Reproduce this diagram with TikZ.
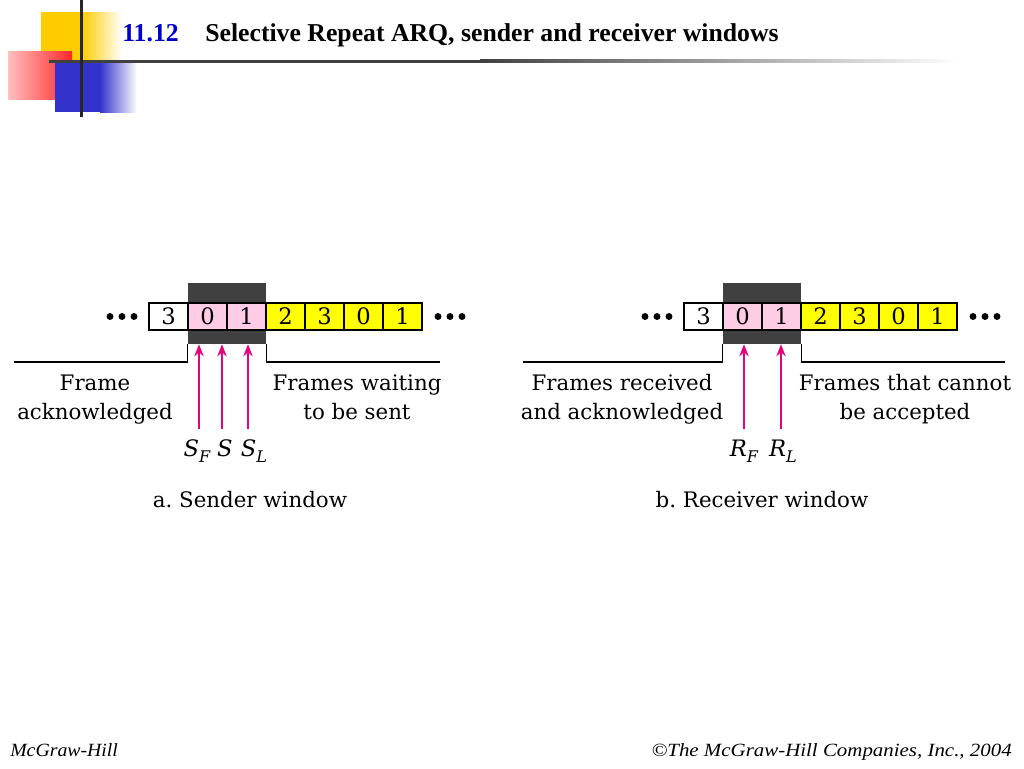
\documentclass[tikz,border=0pt]{standalone}
\usepackage{fontspec}
\usetikzlibrary{arrows.meta,calc}
\newfontfamily\timesfont{Liberation Serif}
\newfontfamily\bodyfont{DejaVu Serif}
\frenchspacing
\newcommand{\sublbl}[2]{{\itshape #1\raisebox{-0.28em}{\fontsize{12}{13}\selectfont #2}}}
\definecolor{cellyellow}{RGB}{255,255,0}
\definecolor{cellpink}{RGB}{255,204,230}
\definecolor{winshade}{RGB}{64,64,64}
\definecolor{arrowmag}{RGB}{230,0,126}
\definecolor{titleblue}{RGB}{0,0,204}
\definecolor{logoyellow}{RGB}{255,204,0}
\definecolor{logored}{RGB}{255,40,40}
\definecolor{logoblue}{RGB}{51,51,204}
\begin{document}
\begin{tikzpicture}[x=0.75pt,y=-0.75pt,
  cell/.style={draw=black,line width=0.9pt,minimum width=29.25pt,minimum height=20.25pt,inner sep=0pt,font=\bodyfont\fontsize{17}{19}\selectfont},
  winbox/.style={fill=winshade,minimum width=58.5pt,minimum height=45.75pt,inner sep=0pt},
  lbl/.style={anchor=base,inner sep=0pt,font=\bodyfont\fontsize{16}{19}\selectfont},
  mlbl/.style={anchor=base,inner sep=0pt,font=\bodyfont\fontsize{17}{19}\selectfont},
  bracket/.style={draw=black,line width=1.1pt},
  marrow/.style={draw=arrowmag,line width=1.4pt,-{Stealth[length=9pt,width=7pt]}},
  dot/.style={fill=black}]
\useasboundingbox (0,0) rectangle (1024,768);
\fill[white] (0,0) rectangle (1024,768);

% ---- logo ----
\fill[logoyellow] (41,12) rectangle (82,60);
\shade[left color=logoyellow,right color=white] (82,12) rectangle (122,60);
\shade[left color=logored!30,right color=logored] (8,51) rectangle (72,99);
\fill[logoblue] (55,62) rectangle (100,112);
\shade[left color=logoblue,right color=white] (100,62) rectangle (137,112);
\fill[black!75] (49,59.5) rectangle (480,62.5);
\shade[left color=black!75,right color=white] (480,59.5) rectangle (960,62.5);
\fill[black!85] (79.5,0) rectangle (82.5,117);

% ---- title ----
\node[anchor=base west,inner sep=0pt,font=\timesfont\bfseries\fontsize{19.3}{23}\selectfont,text=titleblue] (tnum) at (122,41) {11.12};
\node[anchor=base west,inner sep=0pt,font=\timesfont\bfseries\fontsize{19.3}{23}\selectfont] (ttext) at (205,41) {Selective Repeat ARQ, sender and receiver windows};

% ---- sender window ----
\node[winbox] (swin) at (227,313.5) {};
\foreach \i/\n/\c in {0/3/white,1/0/cellpink,2/1/cellpink,3/2/cellyellow,4/3/cellyellow,5/0/cellyellow,6/1/cellyellow}
  \node[cell,fill=\c] (s\i) at ({168.5+39*\i},316.5) {\n};
\foreach \x in {110,122,134} \fill[dot] (\x,316.5) circle[radius=2.6pt];
\foreach \x in {438,450,462} \fill[dot] (\x,316.5) circle[radius=2.6pt];
\draw[bracket] (14,362) -- (swin.south west |- 0,362) -- (swin.south west);
\draw[bracket] (swin.south east) -- (swin.south east |- 0,362) -- (440,362);
\node[lbl] (sfa) at (95,390) {Frame};
\node[lbl] (sfb) at (95,419) {acknowledged};
\node[lbl] (swa) at (357,390) {Frames waiting};
\node[lbl] (swb) at (357,419) {to be sent};
\coordinate (sfT) at (199,429);
\coordinate (ssT) at (222,429);
\coordinate (slT) at (248,429);
\draw[marrow] (sfT) -- (sfT |- swin.south);
\draw[marrow] (ssT) -- (ssT |- swin.south);
\draw[marrow] (slT) -- (slT |- swin.south);
\node[mlbl] (sfl) at (197,456) {\sublbl{S}{F}};
\node[mlbl] (ssl) at (225,456) {\sublbl{S}{}};
\node[mlbl] (sll) at (254,456) {\sublbl{S}{L}};
\node[lbl] (scap) at (250,507) {a. Sender window};

% ---- receiver window ----
\node[winbox] (rwin) at (762,313.5) {};
\foreach \i/\n/\c in {0/3/white,1/0/cellpink,2/1/cellpink,3/2/cellyellow,4/3/cellyellow,5/0/cellyellow,6/1/cellyellow}
  \node[cell,fill=\c] (r\i) at ({703.5+39*\i},316.5) {\n};
\foreach \x in {645,657,669} \fill[dot] (\x,316.5) circle[radius=2.6pt];
\foreach \x in {973,985,997} \fill[dot] (\x,316.5) circle[radius=2.6pt];
\draw[bracket] (523,362) -- (rwin.south west |- 0,362) -- (rwin.south west);
\draw[bracket] (rwin.south east) -- (rwin.south east |- 0,362) -- (1005,362);
\node[lbl] (rfa) at (622,390) {Frames received};
\node[lbl] (rfb) at (622,419) {and acknowledged};
\node[lbl] (rna) at (905,390) {Frames that cannot};
\node[lbl] (rnb) at (905,419) {be accepted};
\coordinate (rfT) at (744,429);
\coordinate (rlT) at (781,429);
\draw[marrow] (rfT) -- (rfT |- rwin.south);
\draw[marrow] (rlT) -- (rlT |- rwin.south);
\node[mlbl] (rfl) at (744,456) {\sublbl{R}{F}};
\node[mlbl] (rll) at (783,456) {\sublbl{R}{L}};
\node[lbl] (rcap) at (762,507) {b. Receiver window};

% ---- footer ----
\node[anchor=base west,inner sep=0pt,font=\timesfont\itshape\fontsize{14}{16}\selectfont] (fleft) at (10,756) {\scalebox{1.06}[1]{McGraw-Hill}};
\node[anchor=base east,inner sep=0pt,font=\timesfont\itshape\fontsize{14}{16}\selectfont] (fright) at (1012,756) {\scalebox{1.12}[1]{©The McGraw-Hill Companies, Inc., 2004}};
\end{tikzpicture}
\end{document}
